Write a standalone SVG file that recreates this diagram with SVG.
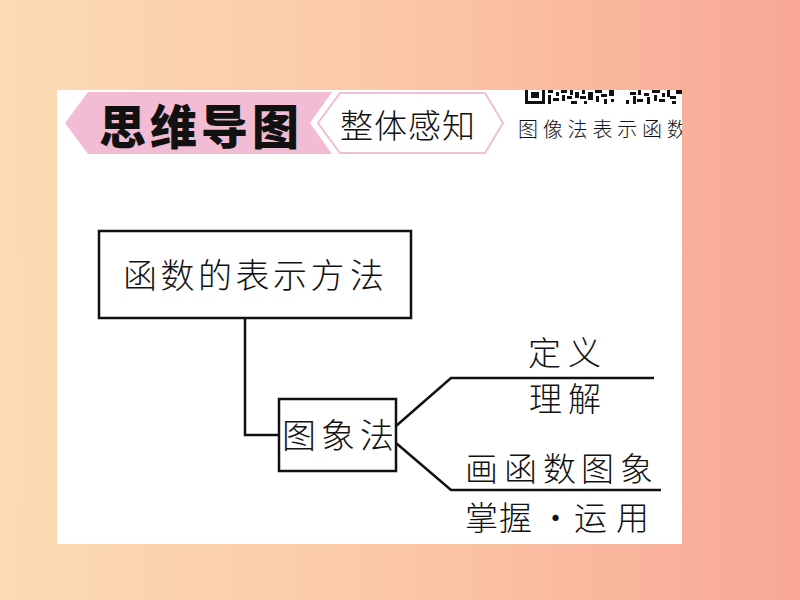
<svg xmlns="http://www.w3.org/2000/svg" width="800" height="600" viewBox="0 0 800 600">
<defs>
<linearGradient id="bg" x1="0" y1="0" x2="1" y2="0">
<stop offset="0" stop-color="#fbdcb4"/>
<stop offset="0.5" stop-color="#fbc7a5"/>
<stop offset="1" stop-color="#f8a796"/>
</linearGradient>
<clipPath id="page"><rect x="57" y="90" width="625" height="454"/></clipPath>
<style>
.t{font-family:"Noto Sans CJK SC","Noto Sans CJK JP",sans-serif;fill:#111;font-weight:300}
.box{fill:#fff;stroke:#111;stroke-width:2.5}
.ln{fill:none;stroke:#111;stroke-width:2.5}
</style>
</defs>
<rect x="0" y="0" width="800" height="600" fill="url(#bg)"/>
<rect x="57" y="90" width="625" height="454" fill="#fff"/>
<g id="header" clip-path="url(#page)">
<polygon points="65,123 88,92 332,92 310,123 332,154 88,154" fill="#f2bcd4"/>
<polygon points="318,123 340,93 485,93 503,123 485,153 340,153" fill="#fff" stroke="#efbfd2" stroke-width="2"/>
<text class="t" font-size="47" style="font-weight:900" x="99 150 201 252" y="144">思维导图</text>
<text class="t" font-size="33" x="340 374 408 442" y="138">整体感知</text>
<g id="qr" fill="#111">
<path d="M525,90h20v14h-20z M528,90v11h14v-11z" fill-rule="evenodd"/>
<rect x="531" y="92" width="8" height="6"/>
<rect x="548" y="90" width="5" height="3"/><rect x="548" y="95" width="3" height="9"/><rect x="553" y="98" width="6" height="3"/>
<rect x="556" y="92" width="3" height="4"/><rect x="561" y="90" width="6" height="3"/><rect x="562" y="95" width="3" height="6"/>
<rect x="567" y="96" width="5" height="3"/><rect x="570" y="90" width="3" height="5"/><rect x="571" y="101" width="6" height="3"/>
<rect x="575" y="92" width="4" height="6"/><rect x="580" y="96" width="6" height="3"/><rect x="582" y="90" width="3" height="4"/>
<rect x="584" y="101" width="3" height="3"/><rect x="588" y="92" width="5" height="8"/><rect x="595" y="90" width="7" height="3"/>
<rect x="596" y="96" width="3" height="6"/><rect x="601" y="94" width="6" height="3"/><rect x="604" y="99" width="3" height="5"/>
<rect x="609" y="90" width="5" height="6"/><rect x="611" y="99" width="3" height="3"/>
<rect x="626" y="100" width="3" height="4"/><rect x="630" y="92" width="6" height="3"/><rect x="633" y="96" width="3" height="8"/>
<rect x="638" y="90" width="3" height="5"/><rect x="637" y="99" width="6" height="3"/><rect x="644" y="93" width="5" height="3"/>
<rect x="647" y="97" width="3" height="7"/><rect x="652" y="90" width="8" height="3"/><rect x="654" y="95" width="3" height="6"/>
<rect x="659" y="99" width="6" height="3"/><rect x="662" y="93" width="3" height="4"/><rect x="667" y="90" width="3" height="7"/>
<rect x="670" y="96" width="6" height="3"/><rect x="672" y="101" width="4" height="3"/><rect x="676" y="90" width="6" height="4"/>
</g>
<text class="t" font-size="20" x="518 542.8 567.6 592.4 617.2 642 666.8" y="137">图像法表示函数</text>
</g>
<g id="connectors">
<polyline class="ln" points="245,318 245,435 279,435"/>
<polyline class="ln" points="396,426 451,378 654,378"/>
<polyline class="ln" points="396,443 451,490 661,490"/>
</g>
<g id="node-root">
<rect class="box" x="99" y="231" width="312" height="87"/>
<text class="t" font-size="34" x="123 160.5 198 235.5 273 310.5 350" y="288">函数的表示方法</text>
</g>
<g id="node-tuxiangfa">
<rect class="box" x="279" y="399" width="117" height="72"/>
<text class="t" font-size="34" x="282 321 360" y="448">图象法</text>
</g>
<g id="label-dingyi"><text class="t" font-size="33" x="528 568" y="365">定义</text></g>
<g id="label-lijie"><text class="t" font-size="33" x="529 568" y="411">理解</text></g>
<g id="label-hua"><text class="t" font-size="33" x="465 504 543 581 620" y="481">画函数图象</text></g>
<g id="label-zhangwo"><text class="t" font-size="33" x="465 499 539 574 616" y="530">掌握·运用</text></g>
</svg>
